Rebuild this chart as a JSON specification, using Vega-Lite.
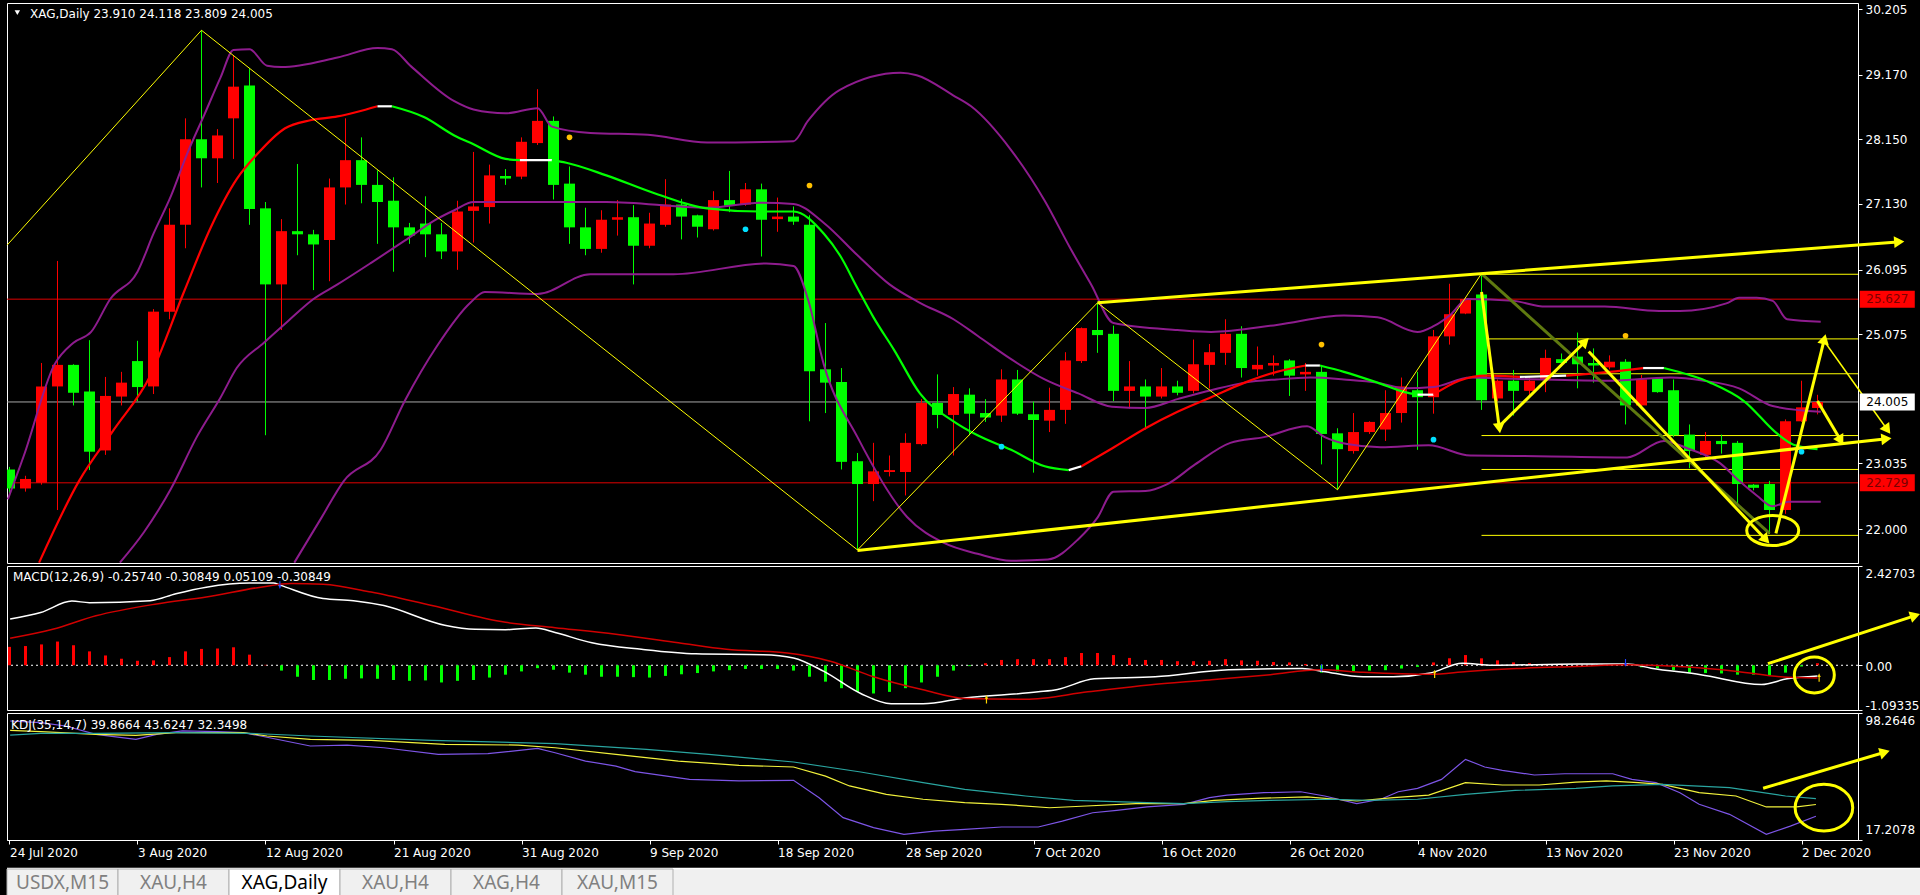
{
"$schema": "https://vega.github.io/schema/vega-lite/v6.json",
"background": "#000000",
"padding": {"left": 3, "top": 2, "right": 0, "bottom": 0},
"spacing": 3,
"bounds": "flush",
"config": {"view": {"stroke": "#ffffff", "strokeWidth": 1}, "font": "DejaVu Sans",
  "axis": {"grid": false, "labelColor": "#ffffff", "tickColor": "#ffffff", "domainColor": "#ffffff", "labelFont": "DejaVu Sans", "labelFontSize": 12, "tickSize": 4, "labelPadding": 3, "titleColor": "#ffffff"}},
"resolve": {"scale": {"x": "independent", "y": "independent", "color": "independent"}},
"datasets": {
"candles": [
{"i":0,"o":22.94,"h":22.98,"l":22.55,"c":22.64},{"i":1,"o":22.64,"h":22.84,"l":22.59,"c":22.79},{"i":2,"o":22.73,"h":24.62,"l":22.70,"c":24.25},{"i":3,"o":24.25,"h":26.23,"l":22.30,"c":24.59},{"i":4,"o":24.59,"h":24.60,"l":23.95,"c":24.15},{"i":5,"o":24.17,"h":24.98,"l":22.93,"c":23.22},{"i":6,"o":23.24,"h":24.40,"l":23.17,"c":24.10},{"i":7,"o":24.09,"h":24.48,"l":23.95,"c":24.31},{"i":8,"o":24.65,"h":24.97,"l":24.02,"c":24.24},{"i":9,"o":24.25,"h":25.47,"l":24.13,"c":25.43},
{"i":10,"o":25.43,"h":27.06,"l":25.31,"c":26.80},{"i":11,"o":26.80,"h":28.48,"l":26.43,"c":28.15},{"i":12,"o":28.15,"h":29.87,"l":27.39,"c":27.85},{"i":13,"o":27.85,"h":28.31,"l":27.46,"c":28.21},{"i":14,"o":28.48,"h":29.47,"l":27.84,"c":28.98},{"i":15,"o":29.00,"h":29.27,"l":26.80,"c":27.05},{"i":16,"o":27.06,"h":27.16,"l":23.48,"c":25.86},{"i":17,"o":25.86,"h":26.89,"l":25.14,"c":26.70},{"i":18,"o":26.70,"h":27.76,"l":26.32,"c":26.65},{"i":19,"o":26.65,"h":26.72,"l":25.77,"c":26.49},
{"i":20,"o":26.56,"h":27.53,"l":25.91,"c":27.39},{"i":21,"o":27.39,"h":28.48,"l":27.12,"c":27.82},{"i":22,"o":27.82,"h":28.18,"l":27.14,"c":27.43},{"i":23,"o":27.43,"h":27.66,"l":26.50,"c":27.16},{"i":24,"o":27.18,"h":27.55,"l":26.06,"c":26.76},{"i":25,"o":26.76,"h":26.83,"l":26.50,"c":26.63},{"i":26,"o":26.82,"h":27.25,"l":26.29,"c":26.65},{"i":27,"o":26.65,"h":26.83,"l":26.26,"c":26.38},{"i":28,"o":26.38,"h":27.18,"l":26.09,"c":27.01},{"i":29,"o":27.02,"h":27.95,"l":26.52,"c":27.09},
{"i":30,"o":27.08,"h":27.75,"l":26.82,"c":27.58},{"i":31,"o":27.57,"h":27.68,"l":27.43,"c":27.53},{"i":32,"o":27.56,"h":28.18,"l":27.52,"c":28.11},{"i":33,"o":28.09,"h":28.94,"l":28.06,"c":28.44},{"i":34,"o":28.44,"h":28.51,"l":27.20,"c":27.43},{"i":35,"o":27.45,"h":27.72,"l":26.50,"c":26.76},{"i":36,"o":26.76,"h":27.07,"l":26.32,"c":26.42},{"i":37,"o":26.42,"h":27.03,"l":26.36,"c":26.88},{"i":38,"o":26.88,"h":27.19,"l":26.63,"c":26.92},{"i":39,"o":26.92,"h":27.11,"l":25.86,"c":26.47},
{"i":40,"o":26.47,"h":26.99,"l":26.43,"c":26.82},{"i":41,"o":26.80,"h":27.52,"l":26.77,"c":27.12},{"i":42,"o":27.12,"h":27.21,"l":26.57,"c":26.93},{"i":43,"o":26.95,"h":26.96,"l":26.60,"c":26.77},{"i":44,"o":26.73,"h":27.33,"l":26.71,"c":27.19},{"i":45,"o":27.19,"h":27.65,"l":27.00,"c":27.10},{"i":46,"o":27.12,"h":27.46,"l":27.10,"c":27.36},{"i":47,"o":27.36,"h":27.45,"l":26.30,"c":26.88},{"i":48,"o":26.89,"h":27.23,"l":26.69,"c":26.93},{"i":49,"o":26.93,"h":27.09,"l":26.80,"c":26.85},
{"i":50,"o":26.80,"h":26.95,"l":23.70,"c":24.49},{"i":51,"o":24.52,"h":25.25,"l":23.83,"c":24.31},{"i":52,"o":24.32,"h":24.54,"l":22.94,"c":23.06},{"i":53,"o":23.07,"h":23.20,"l":21.67,"c":22.71},{"i":54,"o":22.71,"h":23.36,"l":22.44,"c":22.91},{"i":55,"o":22.90,"h":23.16,"l":22.83,"c":22.93},{"i":56,"o":22.90,"h":23.51,"l":22.53,"c":23.36},{"i":57,"o":23.34,"h":24.05,"l":23.32,"c":23.99},{"i":58,"o":23.99,"h":24.44,"l":23.59,"c":23.80},{"i":59,"o":23.80,"h":24.24,"l":23.16,"c":24.13},
{"i":60,"o":24.12,"h":24.22,"l":23.48,"c":23.82},{"i":61,"o":23.83,"h":24.05,"l":23.69,"c":23.76},{"i":62,"o":23.79,"h":24.52,"l":23.69,"c":24.36},{"i":63,"o":24.36,"h":24.51,"l":23.80,"c":23.82},{"i":64,"o":23.81,"h":24.01,"l":22.89,"c":23.72},{"i":65,"o":23.71,"h":24.23,"l":23.53,"c":23.88},{"i":66,"o":23.88,"h":24.79,"l":23.66,"c":24.66},{"i":67,"o":24.65,"h":25.18,"l":24.62,"c":25.17},{"i":68,"o":25.14,"h":25.57,"l":24.78,"c":25.06},{"i":69,"o":25.08,"h":25.21,"l":24.02,"c":24.18},
{"i":70,"o":24.18,"h":24.65,"l":23.90,"c":24.25},{"i":71,"o":24.25,"h":24.36,"l":23.57,"c":24.09},{"i":72,"o":24.09,"h":24.54,"l":24.06,"c":24.25},{"i":73,"o":24.25,"h":24.34,"l":24.11,"c":24.15},{"i":74,"o":24.18,"h":24.99,"l":24.14,"c":24.60},{"i":75,"o":24.59,"h":24.92,"l":24.22,"c":24.79},{"i":76,"o":24.78,"h":25.31,"l":24.59,"c":25.08},{"i":77,"o":25.08,"h":25.20,"l":24.39,"c":24.54},{"i":78,"o":24.52,"h":24.88,"l":24.42,"c":24.59},{"i":79,"o":24.58,"h":24.74,"l":24.42,"c":24.62},
{"i":80,"o":24.66,"h":24.68,"l":24.10,"c":24.42},{"i":81,"o":24.44,"h":24.62,"l":24.18,"c":24.48},{"i":82,"o":24.48,"h":24.57,"l":23.02,"c":23.50},{"i":83,"o":23.51,"h":23.59,"l":22.62,"c":23.26},{"i":84,"o":23.23,"h":23.83,"l":23.19,"c":23.53},{"i":85,"o":23.53,"h":23.70,"l":23.50,"c":23.69},{"i":86,"o":23.57,"h":24.19,"l":23.39,"c":23.83},{"i":87,"o":23.83,"h":24.39,"l":23.68,"c":24.25},{"i":88,"o":24.19,"h":24.48,"l":23.25,"c":24.08},{"i":89,"o":24.08,"h":25.14,"l":23.82,"c":25.04},
{"i":90,"o":25.04,"h":25.87,"l":24.91,"c":25.39},{"i":91,"o":25.40,"h":25.66,"l":25.39,"c":25.63},{"i":92,"o":25.70,"h":26.03,"l":23.88,"c":24.03},{"i":93,"o":24.06,"h":24.36,"l":24.02,"c":24.34},{"i":94,"o":24.34,"h":24.51,"l":23.79,"c":24.18},{"i":95,"o":24.18,"h":24.39,"l":24.11,"c":24.34},{"i":96,"o":24.35,"h":24.83,"l":24.16,"c":24.70},{"i":97,"o":24.68,"h":24.77,"l":24.57,"c":24.62},{"i":98,"o":24.72,"h":25.10,"l":24.22,"c":24.60},{"i":99,"o":24.62,"h":24.85,"l":24.31,"c":24.58},
{"i":100,"o":24.55,"h":24.74,"l":24.52,"c":24.64},{"i":101,"o":24.64,"h":24.68,"l":23.65,"c":23.95},{"i":102,"o":23.95,"h":24.43,"l":23.93,"c":24.36},{"i":103,"o":24.38,"h":24.39,"l":24.15,"c":24.16},{"i":104,"o":24.19,"h":24.36,"l":23.45,"c":23.48},{"i":105,"o":23.49,"h":23.65,"l":22.96,"c":23.23},{"i":106,"o":23.17,"h":23.53,"l":23.13,"c":23.39},{"i":107,"o":23.39,"h":23.49,"l":23.19,"c":23.34},{"i":108,"o":23.36,"h":23.39,"l":22.38,"c":22.71},{"i":109,"o":22.70,"h":22.71,"l":22.61,"c":22.65},
{"i":110,"o":22.71,"h":22.76,"l":21.93,"c":22.30},{"i":111,"o":22.30,"h":23.73,"l":22.24,"c":23.70},{"i":112,"o":23.70,"h":24.34,"l":23.69,"c":23.92},{"i":113,"o":23.91,"h":24.118,"l":23.809,"c":24.005}
],
"bands": [
{"band":"upper","i":-0.1,"p":22.47},{"band":"upper","i":0.9,"p":23.16},{"band":"upper","i":2.8,"p":24.59},{"band":"upper","i":4.0,"p":24.94},{"band":"upper","i":5.1,"p":25.11},{"band":"upper","i":6.3,"p":25.63},{"band":"upper","i":8.0,"p":26.06},{"band":"upper","i":9.0,"p":26.66},{"band":"upper","i":10.1,"p":27.26},{"band":"upper","i":11.1,"p":27.92},{"band":"upper","i":12.2,"p":28.55},{"band":"upper","i":13.2,"p":29.13},{"band":"upper","i":14.0,"p":29.56},{"band":"upper","i":15.0,"p":29.57},{"band":"upper","i":16.1,"p":29.31},{"band":"upper","i":17.0,"p":29.29},{"band":"upper","i":20.5,"p":29.44},{"band":"upper","i":23.0,"p":29.59},{"band":"upper","i":23.9,"p":29.57},{"band":"upper","i":25.1,"p":29.30},{"band":"upper","i":27.8,"p":28.75},{"band":"upper","i":29.0,"p":28.62},{"band":"upper","i":31.0,"p":28.56},{"band":"upper","i":33.0,"p":28.64},{"band":"upper","i":33.9,"p":28.35},{"band":"upper","i":36.3,"p":28.25},{"band":"upper","i":39.9,"p":28.22},{"band":"upper","i":43.6,"p":28.10},{"band":"upper","i":49.0,"p":28.12},{"band":"upper","i":49.9,"p":28.44},{"band":"upper","i":51.9,"p":28.93},{"band":"upper","i":55.7,"p":29.20},{"band":"upper","i":56.7,"p":29.16},{"band":"upper","i":59.0,"p":28.84},{"band":"upper","i":60.1,"p":28.67},{"band":"upper","i":62.6,"p":27.98},{"band":"upper","i":64.7,"p":27.18},{"band":"upper","i":66.3,"p":26.43},{"band":"upper","i":67.6,"p":25.86},{"band":"upper","i":69.0,"p":25.25},{"band":"upper","i":73.0,"p":25.14},{"band":"upper","i":75.1,"p":25.11},{"band":"upper","i":79.2,"p":25.22},{"band":"upper","i":83.4,"p":25.37},{"band":"upper","i":85.5,"p":25.34},{"band":"upper","i":88.0,"p":25.11},{"band":"upper","i":89.0,"p":25.20},{"band":"upper","i":90.1,"p":25.39},{"band":"upper","i":91.1,"p":25.63},{"band":"upper","i":94.0,"p":25.60},{"band":"upper","i":96.0,"p":25.51},{"band":"upper","i":99.7,"p":25.51},{"band":"upper","i":103.1,"p":25.44},{"band":"upper","i":104.4,"p":25.44},{"band":"upper","i":107.3,"p":25.56},{"band":"upper","i":108.1,"p":25.65},{"band":"upper","i":109.2,"p":25.65},{"band":"upper","i":110.2,"p":25.60},{"band":"upper","i":111.1,"p":25.31},{"band":"upper","i":113.2,"p":25.27},
{"band":"middle","i":6.9,"p":21.47},{"band":"middle","i":8.4,"p":21.95},{"band":"middle","i":10.1,"p":22.64},{"band":"middle","i":11.7,"p":23.45},{"band":"middle","i":13.2,"p":24.08},{"band":"middle","i":14.2,"p":24.54},{"band":"middle","i":15.9,"p":24.94},{"band":"middle","i":17.4,"p":25.28},{"band":"middle","i":19.0,"p":25.63},{"band":"middle","i":20.5,"p":25.86},{"band":"middle","i":22.6,"p":26.20},{"band":"middle","i":24.7,"p":26.55},{"band":"middle","i":26.7,"p":26.89},{"band":"middle","i":27.8,"p":27.03},{"band":"middle","i":29.0,"p":27.16},{"band":"middle","i":37.3,"p":27.16},{"band":"middle","i":43.6,"p":27.07},{"band":"middle","i":46.9,"p":27.15},{"band":"middle","i":49.0,"p":27.13},{"band":"middle","i":50.9,"p":26.83},{"band":"middle","i":53.0,"p":26.32},{"band":"middle","i":55.0,"p":25.86},{"band":"middle","i":56.9,"p":25.57},{"band":"middle","i":59.0,"p":25.31},{"band":"middle","i":60.5,"p":25.05},{"band":"middle","i":62.6,"p":24.68},{"band":"middle","i":64.7,"p":24.36},{"band":"middle","i":66.8,"p":24.14},{"band":"middle","i":68.9,"p":23.93},{"band":"middle","i":71.0,"p":23.91},{"band":"middle","i":73.0,"p":24.05},{"band":"middle","i":75.1,"p":24.19},{"band":"middle","i":77.2,"p":24.31},{"band":"middle","i":79.2,"p":24.36},{"band":"middle","i":81.3,"p":24.39},{"band":"middle","i":83.4,"p":24.36},{"band":"middle","i":85.5,"p":24.31},{"band":"middle","i":87.2,"p":24.22},{"band":"middle","i":89.0,"p":24.24},{"band":"middle","i":91.3,"p":24.39},{"band":"middle","i":94.0,"p":24.37},{"band":"middle","i":99.7,"p":24.34},{"band":"middle","i":103.8,"p":24.39},{"band":"middle","i":105.9,"p":24.34},{"band":"middle","i":108.1,"p":24.22},{"band":"middle","i":110.2,"p":23.94},{"band":"middle","i":113.2,"p":23.85},
{"band":"lower","i":17.8,"p":21.47},{"band":"lower","i":19.5,"p":22.18},{"band":"lower","i":20.9,"p":22.76},{"band":"lower","i":23.2,"p":23.25},{"band":"lower","i":24.7,"p":24.02},{"band":"lower","i":26.7,"p":24.88},{"band":"lower","i":28.8,"p":25.57},{"band":"lower","i":29.7,"p":25.74},{"band":"lower","i":33.0,"p":25.71},{"band":"lower","i":36.3,"p":26.02},{"band":"lower","i":41.5,"p":26.02},{"band":"lower","i":47.3,"p":26.19},{"band":"lower","i":49.0,"p":26.15},{"band":"lower","i":49.9,"p":25.63},{"band":"lower","i":50.9,"p":24.59},{"band":"lower","i":53.0,"p":23.45},{"band":"lower","i":56.1,"p":22.19},{"band":"lower","i":58.4,"p":21.78},{"band":"lower","i":60.5,"p":21.61},{"band":"lower","i":62.6,"p":21.50},{"band":"lower","i":64.9,"p":21.52},{"band":"lower","i":66.8,"p":21.84},{"band":"lower","i":68.0,"p":22.18},{"band":"lower","i":69.0,"p":22.59},{"band":"lower","i":71.0,"p":22.60},{"band":"lower","i":72.3,"p":22.70},{"band":"lower","i":74.1,"p":23.02},{"band":"lower","i":76.3,"p":23.36},{"band":"lower","i":78.4,"p":23.45},{"band":"lower","i":81.1,"p":23.62},{"band":"lower","i":82.2,"p":23.45},{"band":"lower","i":83.6,"p":23.34},{"band":"lower","i":85.7,"p":23.29},{"band":"lower","i":88.7,"p":23.32},{"band":"lower","i":91.3,"p":23.16},{"band":"lower","i":95.5,"p":23.15},{"band":"lower","i":101.1,"p":23.13},{"band":"lower","i":103.4,"p":23.39},{"band":"lower","i":104.9,"p":23.27},{"band":"lower","i":106.9,"p":23.04},{"band":"lower","i":108.1,"p":22.76},{"band":"lower","i":109.2,"p":22.53},{"band":"lower","i":110.2,"p":22.36},{"band":"lower","i":111.2,"p":22.43},{"band":"lower","i":113.2,"p":22.43}
],
"ma": [
{"seg":1,"trend":"up","i":1.85,"p":21.47},{"seg":1,"trend":"up","i":4.35,"p":22.76},{"seg":1,"trend":"up","i":6.5,"p":23.56},{"seg":1,"trend":"up","i":8.8,"p":24.42},{"seg":1,"trend":"up","i":10.9,"p":25.74},{"seg":1,"trend":"up","i":12.6,"p":26.77},{"seg":1,"trend":"up","i":14.2,"p":27.52},{"seg":1,"trend":"up","i":15.5,"p":27.92},{"seg":1,"trend":"up","i":17.2,"p":28.32},{"seg":1,"trend":"up","i":18.8,"p":28.45},{"seg":1,"trend":"up","i":20.5,"p":28.51},{"seg":1,"trend":"up","i":21.7,"p":28.58},{"seg":1,"trend":"up","i":23.0,"p":28.67},
{"seg":2,"trend":"flat","i":23.0,"p":28.67},{"seg":2,"trend":"flat","i":23.9,"p":28.67},
{"seg":3,"trend":"down","i":23.9,"p":28.67},{"seg":3,"trend":"down","i":25.9,"p":28.50},{"seg":3,"trend":"down","i":27.8,"p":28.21},{"seg":3,"trend":"down","i":29.0,"p":28.07},{"seg":3,"trend":"down","i":31.0,"p":27.84},{"seg":3,"trend":"down","i":31.9,"p":27.82},
{"seg":4,"trend":"flat","i":31.9,"p":27.82},{"seg":4,"trend":"flat","i":33.9,"p":27.82},
{"seg":5,"trend":"down","i":33.9,"p":27.82},{"seg":5,"trend":"down","i":34.8,"p":27.78},{"seg":5,"trend":"down","i":37.3,"p":27.58},{"seg":5,"trend":"down","i":40.4,"p":27.29},{"seg":5,"trend":"down","i":43.6,"p":27.06},{"seg":5,"trend":"down","i":46.9,"p":27.01},{"seg":5,"trend":"down","i":49.0,"p":27.01},{"seg":5,"trend":"down","i":50.9,"p":26.66},{"seg":5,"trend":"down","i":51.9,"p":26.32},{"seg":5,"trend":"down","i":53.0,"p":25.80},{"seg":5,"trend":"down","i":54.0,"p":25.34},{"seg":5,"trend":"down","i":55.3,"p":24.82},{"seg":5,"trend":"down","i":56.9,"p":24.14},{"seg":5,"trend":"down","i":59.0,"p":23.70},{"seg":5,"trend":"down","i":60.5,"p":23.48},{"seg":5,"trend":"down","i":62.6,"p":23.25},{"seg":5,"trend":"down","i":64.7,"p":22.99},{"seg":5,"trend":"down","i":66.2,"p":22.93},
{"seg":6,"trend":"flat","i":66.2,"p":22.93},{"seg":6,"trend":"flat","i":67.0,"p":22.99},
{"seg":7,"trend":"up","i":67.0,"p":22.99},{"seg":7,"trend":"up","i":68.9,"p":23.27},{"seg":7,"trend":"up","i":71.0,"p":23.59},{"seg":7,"trend":"up","i":73.0,"p":23.85},{"seg":7,"trend":"up","i":75.1,"p":24.08},{"seg":7,"trend":"up","i":77.2,"p":24.31},{"seg":7,"trend":"up","i":79.2,"p":24.48},{"seg":7,"trend":"up","i":81.0,"p":24.58},
{"seg":8,"trend":"flat","i":81.0,"p":24.58},{"seg":8,"trend":"flat","i":81.9,"p":24.58},
{"seg":9,"trend":"down","i":81.9,"p":24.58},{"seg":9,"trend":"down","i":83.4,"p":24.48},{"seg":9,"trend":"down","i":85.5,"p":24.31},{"seg":9,"trend":"down","i":87.2,"p":24.16},{"seg":9,"trend":"down","i":88.0,"p":24.12},
{"seg":10,"trend":"flat","i":88.0,"p":24.12},{"seg":10,"trend":"flat","i":89.0,"p":24.12},
{"seg":11,"trend":"up","i":89.0,"p":24.12},{"seg":11,"trend":"up","i":90.6,"p":24.34},{"seg":11,"trend":"up","i":92.3,"p":24.42},{"seg":11,"trend":"up","i":94.4,"p":24.40},
{"seg":12,"trend":"flat","i":94.4,"p":24.40},{"seg":12,"trend":"flat","i":97.3,"p":24.42},
{"seg":13,"trend":"up","i":97.3,"p":24.42},{"seg":13,"trend":"up","i":100.0,"p":24.48},{"seg":13,"trend":"up","i":102.1,"p":24.54},
{"seg":14,"trend":"flat","i":102.1,"p":24.54},{"seg":14,"trend":"flat","i":103.4,"p":24.54},
{"seg":15,"trend":"down","i":103.4,"p":24.54},{"seg":15,"trend":"down","i":106.3,"p":24.31},{"seg":15,"trend":"down","i":108.4,"p":24.02},{"seg":15,"trend":"down","i":110.5,"p":23.50},{"seg":15,"trend":"down","i":111.5,"p":23.33},{"seg":15,"trend":"down","i":113.0,"p":23.26}
],
"zigzag": [{"i":-0.15,"p":26.48},{"i":12,"p":29.87},{"i":53,"p":21.67},{"i":68,"p":25.57},{"i":83,"p":22.62},{"i":92,"p":26.03},{"i":110,"p":21.93}],
"olive": [{"i":92,"p":26.03},{"i":110,"p":21.93}],
"trend": [
{"id":"upper","i":68,"p":25.57},{"id":"upper","i":118,"p":26.53},
{"id":"lower","i":53,"p":21.66},{"id":"lower","i":117.2,"p":23.42},
{"id":"a","i":92,"p":25.74},{"id":"a","i":93.1,"p":23.62},
{"id":"b","i":93.1,"p":23.62},{"id":"b","i":98.4,"p":24.94},
{"id":"c","i":98.7,"p":24.8},{"id":"c","i":109.7,"p":21.85},
{"id":"d","i":110.4,"p":21.93},{"id":"d","i":113.4,"p":24.97},
{"id":"f","i":113.0,"p":24.02},{"id":"f","i":114.4,"p":23.42}
],
"thin": [{"id":"e","i":113.4,"p":24.97},{"id":"e","i":117.3,"p":23.59}],
"heads": [{"i":118,"p":26.53,"dir":85.7},{"i":117.2,"p":23.42,"dir":83.8},{"i":93.1,"p":23.62,"dir":172.5},{"i":98.4,"p":24.94,"dir":45.4},{"i":109.7,"p":21.85,"dir":136.7},{"i":113.4,"p":24.97,"dir":14},{"i":117.3,"p":23.59,"dir":144.5},{"i":114.4,"p":23.42,"dir":149.5}],
"fib": [{"p":26.02},{"p":25.0},{"p":24.45},{"p":23.475},{"p":22.94},{"p":21.90}],
"levels": [{"p":25.627},{"p":22.729}],
"dots": [{"i":35,"p":28.18,"kind":"up"},{"i":50,"p":27.42,"kind":"up"},{"i":82,"p":24.91,"kind":"up"},{"i":101,"p":25.05,"kind":"up"},{"i":46,"p":26.73,"kind":"down"},{"i":62,"p":23.30,"kind":"down"},{"i":89,"p":23.41,"kind":"down"},{"i":112,"p":23.22,"kind":"down"}],
"pricelabels": [{"p":25.627,"kind":"res","t":"25.627"},{"p":22.729,"kind":"res","t":"22.729"},{"p":24.005,"kind":"cur","t":"24.005"}],
"hist": [
{"i":0,"h":0.45},{"i":1,"h":0.47},{"i":2,"h":0.51},{"i":3,"h":0.58},{"i":4,"h":0.49},{"i":5,"h":0.34},{"i":6,"h":0.24},{"i":7,"h":0.16},{"i":8,"h":0.11},{"i":9,"h":0.12},{"i":10,"h":0.20},{"i":11,"h":0.34},{"i":12,"h":0.40},{"i":13,"h":0.41},{"i":14,"h":0.44},{"i":15,"h":0.26},{"i":16,"h":0.01},{"i":17,"h":-0.13},{"i":18,"h":-0.28},{"i":19,"h":-0.36},{"i":20,"h":-0.36},{"i":21,"h":-0.33},{"i":22,"h":-0.32},{"i":23,"h":-0.33},{"i":24,"h":-0.36},{"i":25,"h":-0.38},{"i":26,"h":-0.37},{"i":27,"h":-0.42},{"i":28,"h":-0.38},{"i":29,"h":-0.36},{"i":30,"h":-0.30},{"i":31,"h":-0.23},{"i":32,"h":-0.15},{"i":33,"h":-0.07},{"i":34,"h":-0.11},{"i":35,"h":-0.18},{"i":36,"h":-0.23},{"i":37,"h":-0.28},{"i":38,"h":-0.28},{"i":39,"h":-0.29},{"i":40,"h":-0.30},{"i":41,"h":-0.26},{"i":42,"h":-0.22},{"i":43,"h":-0.19},{"i":44,"h":-0.15},{"i":45,"h":-0.12},{"i":46,"h":-0.09},{"i":47,"h":-0.09},{"i":48,"h":-0.09},{"i":49,"h":-0.13},{"i":50,"h":-0.28},{"i":51,"h":-0.40},{"i":52,"h":-0.56},{"i":53,"h":-0.65},{"i":54,"h":-0.69},{"i":55,"h":-0.65},{"i":56,"h":-0.56},{"i":57,"h":-0.42},{"i":58,"h":-0.28},{"i":59,"h":-0.13},
{"i":60,"h":-0.02},{"i":61,"h":0.05},{"i":62,"h":0.13},{"i":63,"h":0.15},{"i":64,"h":0.15},{"i":65,"h":0.15},{"i":66,"h":0.20},{"i":67,"h":0.30},{"i":68,"h":0.30},{"i":69,"h":0.25},{"i":70,"h":0.18},{"i":71,"h":0.13},{"i":72,"h":0.13},{"i":73,"h":0.10},{"i":74,"h":0.10},{"i":75,"h":0.11},{"i":76,"h":0.15},{"i":77,"h":0.12},{"i":78,"h":0.11},{"i":79,"h":0.08},{"i":80,"h":0.07},{"i":81,"h":0.03},{"i":82,"h":-0.18},{"i":83,"h":-0.15},{"i":84,"h":-0.15},{"i":85,"h":-0.13},{"i":86,"h":-0.12},{"i":87,"h":-0.08},{"i":88,"h":-0.04},{"i":89,"h":0.07},{"i":90,"h":0.17},{"i":91,"h":0.25},{"i":92,"h":0.17},{"i":93,"h":0.12},{"i":94,"h":0.07},{"i":95,"h":0.05},{"i":96,"h":0.02},{"i":97,"h":0.02},{"i":98,"h":0.01},{"i":99,"h":0.01},{"i":100,"h":0.01},{"i":101,"h":0.0},{"i":102,"h":-0.05},{"i":103,"h":-0.07},{"i":104,"h":-0.12},{"i":105,"h":-0.18},{"i":106,"h":-0.19},{"i":107,"h":-0.20},{"i":108,"h":-0.23},{"i":109,"h":-0.23},{"i":110,"h":-0.25},{"i":111,"h":-0.18},{"i":112,"h":-0.03},{"i":113,"h":0.05}
],
"macdlines": [
{"line":"MACD","i":0.04,"v":1.13},{"line":"MACD","i":1.95,"v":1.29},{"line":"MACD","i":3.9,"v":1.57},{"line":"MACD","i":5.0,"v":1.53},{"line":"MACD","i":8.8,"v":1.58},{"line":"MACD","i":10.4,"v":1.75},{"line":"MACD","i":12.3,"v":1.91},{"line":"MACD","i":15.0,"v":2.01},{"line":"MACD","i":16.5,"v":2.01},{"line":"MACD","i":16.9,"v":1.96},{"line":"MACD","i":19.6,"v":1.63},{"line":"MACD","i":21.5,"v":1.58},{"line":"MACD","i":23.4,"v":1.46},{"line":"MACD","i":27.2,"v":0.98},{"line":"MACD","i":29.1,"v":0.88},{"line":"MACD","i":31.0,"v":0.87},{"line":"MACD","i":32.9,"v":0.91},{"line":"MACD","i":34.1,"v":0.80},{"line":"MACD","i":36.4,"v":0.55},{"line":"MACD","i":39.5,"v":0.39},{"line":"MACD","i":42.9,"v":0.28},{"line":"MACD","i":47.1,"v":0.26},{"line":"MACD","i":49.0,"v":0.18},{"line":"MACD","i":50.9,"v":-0.15},{"line":"MACD","i":53.2,"v":-0.69},{"line":"MACD","i":55.1,"v":-0.94},{"line":"MACD","i":57.1,"v":-0.94},{"line":"MACD","i":59.7,"v":-0.80},{"line":"MACD","i":64.3,"v":-0.65},{"line":"MACD","i":65.5,"v":-0.59},{"line":"MACD","i":67.8,"v":-0.33},{"line":"MACD","i":71.6,"v":-0.28},{"line":"MACD","i":76.2,"v":-0.11},{"line":"MACD","i":80.8,"v":-0.08},{"line":"MACD","i":82.1,"v":-0.15},{"line":"MACD","i":84.6,"v":-0.28},{"line":"MACD","i":86.5,"v":-0.28},{"line":"MACD","i":88.8,"v":-0.19},{"line":"MACD","i":90.8,"v":0.05},{"line":"MACD","i":92.7,"v":0.0},{"line":"MACD","i":98.0,"v":0.03},{"line":"MACD","i":101.1,"v":0.03},{"line":"MACD","i":102.6,"v":-0.07},{"line":"MACD","i":105.7,"v":-0.23},{"line":"MACD","i":109.5,"v":-0.47},{"line":"MACD","i":111.1,"v":-0.33},{"line":"MACD","i":113.0,"v":-0.26},
{"line":"Signal","i":0.04,"v":0.66},{"line":"Signal","i":2.7,"v":0.88},{"line":"Signal","i":5.4,"v":1.21},{"line":"Signal","i":9.2,"v":1.50},{"line":"Signal","i":12.3,"v":1.67},{"line":"Signal","i":15.7,"v":1.91},{"line":"Signal","i":17.6,"v":2.00},{"line":"Signal","i":19.6,"v":1.98},{"line":"Signal","i":22.6,"v":1.79},{"line":"Signal","i":26.4,"v":1.46},{"line":"Signal","i":31.0,"v":1.05},{"line":"Signal","i":34.1,"v":0.92},{"line":"Signal","i":37.9,"v":0.76},{"line":"Signal","i":41.8,"v":0.55},{"line":"Signal","i":44.8,"v":0.39},{"line":"Signal","i":48.6,"v":0.30},{"line":"Signal","i":51.3,"v":0.10},{"line":"Signal","i":54.0,"v":-0.28},{"line":"Signal","i":57.1,"v":-0.60},{"line":"Signal","i":59.7,"v":-0.81},{"line":"Signal","i":63.5,"v":-0.83},{"line":"Signal","i":67.4,"v":-0.65},{"line":"Signal","i":71.2,"v":-0.48},{"line":"Signal","i":75.0,"v":-0.36},{"line":"Signal","i":78.8,"v":-0.23},{"line":"Signal","i":81.9,"v":-0.11},{"line":"Signal","i":84.6,"v":-0.17},{"line":"Signal","i":88.8,"v":-0.22},{"line":"Signal","i":91.1,"v":-0.15},{"line":"Signal","i":94.2,"v":-0.08},{"line":"Signal","i":98.0,"v":-0.03},{"line":"Signal","i":101.1,"v":0.01},{"line":"Signal","i":104.3,"v":-0.03},{"line":"Signal","i":108.0,"v":-0.15},{"line":"Signal","i":110.7,"v":-0.28},{"line":"Signal","i":113.0,"v":-0.31}
],
"macdmarks": [{"i":61.06,"v":-0.83,"kind":"buy"},{"i":89.07,"v":-0.21,"kind":"buy"},{"i":113.1,"v":-0.30,"kind":"buy"},{"i":16.9,"v":1.96,"kind":"sell"},{"i":82.0,"v":-0.07,"kind":"sell"},{"i":101.0,"v":0.06,"kind":"sell"}],
"macdarrow": [{"i":109.9,"v":0.04},{"i":119.0,"v":1.20}],
"kdjarrow": [{"i":109.6,"v":50.2},{"i":117.1,"v":72.9}],
"kdj": [
{"line":"J","i":0.04,"v":93.16},{"line":"J","i":1.95,"v":92.09},{"line":"J","i":3.5,"v":89.97},{"line":"J","i":5.4,"v":84.6},{"line":"J","i":7.9,"v":81.45},{"line":"J","i":9.2,"v":84.6},{"line":"J","i":10.8,"v":86.8},{"line":"J","i":13.0,"v":86.35},{"line":"J","i":14.6,"v":85.7},{"line":"J","i":15.7,"v":83.6},{"line":"J","i":18.8,"v":77.2},{"line":"J","i":21.1,"v":77.8},{"line":"J","i":23.4,"v":76.1},{"line":"J","i":26.8,"v":71.9},{"line":"J","i":29.9,"v":72.3},{"line":"J","i":33.0,"v":75.7},{"line":"J","i":34.1,"v":72.9},{"line":"J","i":36.0,"v":67.6},{"line":"J","i":37.9,"v":64.4},{"line":"J","i":39.1,"v":60.8},{"line":"J","i":42.5,"v":55.9},{"line":"J","i":45.6,"v":54.9},{"line":"J","i":49.0,"v":55.3},{"line":"J","i":50.6,"v":44.2},{"line":"J","i":52.1,"v":31.5},{"line":"J","i":54.0,"v":25.1},{"line":"J","i":55.9,"v":20.8},{"line":"J","i":57.8,"v":22.9},{"line":"J","i":59.7,"v":24.0},{"line":"J","i":62.0,"v":25.5},{"line":"J","i":64.3,"v":25.5},{"line":"J","i":65.8,"v":29.3},{"line":"J","i":67.7,"v":34.6},{"line":"J","i":69.2,"v":36.1},{"line":"J","i":71.1,"v":38.3},{"line":"J","i":73.4,"v":40.0},{"line":"J","i":75.0,"v":44.2},{"line":"J","i":76.1,"v":45.9},{"line":"J","i":78.4,"v":47.4},{"line":"J","i":80.7,"v":48.0},{"line":"J","i":82.2,"v":45.3},{"line":"J","i":84.2,"v":40.4},{"line":"J","i":85.7,"v":43.2},{"line":"J","i":86.8,"v":48.0},{"line":"J","i":88.0,"v":50.2},{"line":"J","i":89.5,"v":55.9},{"line":"J","i":91.0,"v":68.7},{"line":"J","i":92.2,"v":63.8},{"line":"J","i":93.3,"v":61.7},{"line":"J","i":95.3,"v":58.7},{"line":"J","i":97.2,"v":59.5},{"line":"J","i":100.2,"v":59.5},{"line":"J","i":101.4,"v":55.9},{"line":"J","i":102.9,"v":53.8},{"line":"J","i":104.4,"v":47.4},{"line":"J","i":105.6,"v":40.0},{"line":"J","i":107.5,"v":33.6},{"line":"J","i":109.8,"v":20.8},{"line":"J","i":111.3,"v":26.1},{"line":"J","i":112.9,"v":32.35},
{"line":"K","i":0.04,"v":87.2},{"line":"K","i":1.95,"v":86.35},{"line":"K","i":5.4,"v":84.6},{"line":"K","i":7.9,"v":84.0},{"line":"K","i":10.4,"v":85.7},{"line":"K","i":14.6,"v":85.7},{"line":"K","i":16.1,"v":83.6},{"line":"K","i":18.8,"v":81.45},{"line":"K","i":22.6,"v":80.8},{"line":"K","i":27.2,"v":78.3},{"line":"K","i":31.8,"v":77.8},{"line":"K","i":34.1,"v":76.1},{"line":"K","i":37.9,"v":71.9},{"line":"K","i":41.8,"v":67.6},{"line":"K","i":45.6,"v":64.9},{"line":"K","i":49.0,"v":63.8},{"line":"K","i":51.0,"v":58.0},{"line":"K","i":52.5,"v":51.7},{"line":"K","i":54.8,"v":46.3},{"line":"K","i":57.1,"v":43.2},{"line":"K","i":59.7,"v":41.0},{"line":"K","i":62.0,"v":40.0},{"line":"K","i":65.0,"v":37.8},{"line":"K","i":67.3,"v":38.9},{"line":"K","i":70.4,"v":40.4},{"line":"K","i":73.4,"v":40.4},{"line":"K","i":75.3,"v":42.5},{"line":"K","i":78.0,"v":43.8},{"line":"K","i":81.1,"v":44.7},{"line":"K","i":84.2,"v":42.1},{"line":"K","i":86.5,"v":44.2},{"line":"K","i":88.7,"v":45.9},{"line":"K","i":91.0,"v":53.8},{"line":"K","i":93.3,"v":52.3},{"line":"K","i":95.6,"v":52.3},{"line":"K","i":97.9,"v":54.2},{"line":"K","i":99.8,"v":54.9},{"line":"K","i":101.8,"v":53.8},{"line":"K","i":103.3,"v":52.7},{"line":"K","i":105.6,"v":47.4},{"line":"K","i":107.9,"v":45.3},{"line":"K","i":109.8,"v":38.3},{"line":"K","i":111.7,"v":38.3},{"line":"K","i":112.9,"v":39.87},
{"line":"D","i":0.04,"v":84.2},{"line":"D","i":1.95,"v":85.3},{"line":"D","i":5.4,"v":85.3},{"line":"D","i":10.4,"v":85.7},{"line":"D","i":15.0,"v":85.3},{"line":"D","i":18.8,"v":83.6},{"line":"D","i":26.4,"v":80.8},{"line":"D","i":34.1,"v":78.7},{"line":"D","i":39.8,"v":75.1},{"line":"D","i":43.7,"v":71.9},{"line":"D","i":49.0,"v":67.0},{"line":"D","i":53.2,"v":60.6},{"line":"D","i":57.1,"v":53.8},{"line":"D","i":59.7,"v":49.5},{"line":"D","i":63.5,"v":45.3},{"line":"D","i":66.5,"v":42.5},{"line":"D","i":71.1,"v":41.0},{"line":"D","i":73.4,"v":40.4},{"line":"D","i":76.1,"v":41.7},{"line":"D","i":78.8,"v":42.5},{"line":"D","i":82.6,"v":43.2},{"line":"D","i":84.9,"v":42.5},{"line":"D","i":88.0,"v":43.2},{"line":"D","i":91.0,"v":46.3},{"line":"D","i":94.1,"v":48.9},{"line":"D","i":97.9,"v":50.2},{"line":"D","i":100.2,"v":51.7},{"line":"D","i":103.3,"v":52.7},{"line":"D","i":107.5,"v":50.6},{"line":"D","i":111.0,"v":45.3},{"line":"D","i":112.9,"v":43.62}
],
"tabs": [{"n":0,"tab":"USDX,M15","sel":false},{"n":1,"tab":"XAU,H4","sel":false},{"n":2,"tab":"XAG,Daily","sel":true},{"n":3,"tab":"XAU,H4","sel":false},{"n":4,"tab":"XAG,H4","sel":false},{"n":5,"tab":"XAU,M15","sel":false}]
},
"vconcat": [
{
"width": 1851, "height": 560,
"resolve": {"scale": {"color": "independent"}},
"layer": [
{"data": {"name": "levels"}, "mark": {"type": "rule", "color": "#e00000", "strokeWidth": 1},
 "encoding": {"y": {"field": "p", "type": "quantitative", "scale": {"domain": [21.464, 30.30], "nice": false, "zero": false, "padding": 0},
   "axis": {"orient": "right", "title": null, "values": [30.205, 29.17, 28.15, 27.13, 26.095, 25.075, 23.035, 22.0], "format": ".3f", "grid": false, "tickSize": 4, "labelPadding": 3, "labelFont": "DejaVu Sans", "labelFontSize": 12, "labelColor": "#ffffff", "tickColor": "#ffffff", "domainColor": "#ffffff", "labelFlush": false, "labelOverlap": false, "labelBound": false}}}},
{"data": {"name": "pricelabels"}, "transform": [{"filter": "datum.kind == 'cur'"}], "mark": {"type": "rule", "color": "#a8a8a8", "strokeWidth": 1},
 "encoding": {"y": {"field": "p", "type": "quantitative", "scale": {"domain": [21.464, 30.30], "nice": false, "zero": false, "padding": 0}}}},
{"data": {"name": "fib"}, "mark": {"type": "rule", "color": "#ffff00", "strokeWidth": 1},
 "encoding": {"x": {"datum": 92, "type": "quantitative", "scale": {"domain": [-0.156, 115.53], "nice": false, "zero": false, "padding": 0}, "axis": null}, "x2": {"datum": 115.53},
   "y": {"field": "p", "type": "quantitative", "scale": {"domain": [21.464, 30.30], "nice": false, "zero": false, "padding": 0}}}},
{"data": {"name": "candles"}, "mark": {"type": "rule", "strokeWidth": 1, "clip": true},
 "encoding": {"x": {"field": "i", "type": "quantitative", "scale": {"domain": [-0.156, 115.53], "nice": false, "zero": false, "padding": 0}, "axis": null},
   "y": {"field": "l", "type": "quantitative", "scale": {"domain": [21.464, 30.30], "nice": false, "zero": false, "padding": 0}}, "y2": {"field": "h"},
   "color": {"condition": {"test": "datum.c >= datum.o", "value": "#ff0000"}, "value": "#00ff00"}}},
{"data": {"name": "candles"}, "mark": {"type": "bar", "size": 11, "clip": true},
 "encoding": {"x": {"field": "i", "type": "quantitative", "scale": {"domain": [-0.156, 115.53], "nice": false, "zero": false, "padding": 0}, "axis": null},
   "y": {"field": "o", "type": "quantitative", "scale": {"domain": [21.464, 30.30], "nice": false, "zero": false, "padding": 0}}, "y2": {"field": "c"},
   "color": {"condition": {"test": "datum.c >= datum.o", "value": "#ff0000"}, "value": "#00ff00"}}},
{"data": {"name": "bands"}, "mark": {"type": "line", "strokeWidth": 2, "interpolate": "monotone", "color": "#8e1c8e"},
 "encoding": {"x": {"field": "i", "type": "quantitative", "scale": {"domain": [-0.156, 115.53], "nice": false, "zero": false, "padding": 0}, "axis": null},
   "y": {"field": "p", "type": "quantitative", "scale": {"domain": [21.464, 30.30], "nice": false, "zero": false, "padding": 0}}, "detail": {"field": "band"}}},
{"data": {"name": "ma"}, "mark": {"type": "line", "strokeWidth": 2.2, "interpolate": "monotone"},
 "encoding": {"x": {"field": "i", "type": "quantitative", "scale": {"domain": [-0.156, 115.53], "nice": false, "zero": false, "padding": 0}, "axis": null},
   "y": {"field": "p", "type": "quantitative", "scale": {"domain": [21.464, 30.30], "nice": false, "zero": false, "padding": 0}}, "detail": {"field": "seg"},
   "color": {"field": "trend", "type": "nominal", "scale": {"domain": ["up", "down", "flat"], "range": ["#ff0000", "#00ff00", "#ffffff"]}, "legend": null}}},
{"data": {"name": "zigzag"}, "mark": {"type": "line", "strokeWidth": 1, "color": "#ffff00"},
 "encoding": {"x": {"field": "i", "type": "quantitative", "scale": {"domain": [-0.156, 115.53], "nice": false, "zero": false, "padding": 0}, "axis": null},
   "y": {"field": "p", "type": "quantitative", "scale": {"domain": [21.464, 30.30], "nice": false, "zero": false, "padding": 0}}}},
{"data": {"name": "olive"}, "mark": {"type": "line", "strokeWidth": 3, "color": "#5f7a10"},
 "encoding": {"x": {"field": "i", "type": "quantitative", "scale": {"domain": [-0.156, 115.53], "nice": false, "zero": false, "padding": 0}, "axis": null},
   "y": {"field": "p", "type": "quantitative", "scale": {"domain": [21.464, 30.30], "nice": false, "zero": false, "padding": 0}}}},
{"data": {"name": "trend"}, "mark": {"type": "line", "strokeWidth": 3, "color": "#ffff00"},
 "encoding": {"x": {"field": "i", "type": "quantitative", "scale": {"domain": [-0.156, 115.53], "nice": false, "zero": false, "padding": 0}, "axis": null},
   "y": {"field": "p", "type": "quantitative", "scale": {"domain": [21.464, 30.30], "nice": false, "zero": false, "padding": 0}}, "detail": {"field": "id"}}},
{"data": {"name": "thin"}, "mark": {"type": "line", "strokeWidth": 1.5, "color": "#ffff00"},
 "encoding": {"x": {"field": "i", "type": "quantitative", "scale": {"domain": [-0.156, 115.53], "nice": false, "zero": false, "padding": 0}, "axis": null},
   "y": {"field": "p", "type": "quantitative", "scale": {"domain": [21.464, 30.30], "nice": false, "zero": false, "padding": 0}}}},
{"data": {"name": "heads"}, "mark": {"type": "point", "shape": "triangle", "filled": true, "size": 140, "color": "#ffff00", "opacity": 1},
 "encoding": {"x": {"field": "i", "type": "quantitative", "scale": {"domain": [-0.156, 115.53], "nice": false, "zero": false, "padding": 0}, "axis": null},
   "y": {"field": "p", "type": "quantitative", "scale": {"domain": [21.464, 30.30], "nice": false, "zero": false, "padding": 0}},
   "angle": {"field": "dir", "type": "quantitative", "scale": null}}},
{"data": {"name": "dots"}, "mark": {"type": "point", "shape": "circle", "filled": true, "size": 32, "opacity": 1},
 "encoding": {"x": {"field": "i", "type": "quantitative", "scale": {"domain": [-0.156, 115.53], "nice": false, "zero": false, "padding": 0}, "axis": null},
   "y": {"field": "p", "type": "quantitative", "scale": {"domain": [21.464, 30.30], "nice": false, "zero": false, "padding": 0}},
   "color": {"condition": {"test": "datum.kind == 'up'", "value": "#ffc000"}, "value": "#00e0ff"}}},
{"data": {"values": [{"note": "circled low"}]}, "mark": {"type": "point", "shape": "M -1 0 A 1 0.58 0 1 0 1 0 A 1 0.58 0 1 0 -1 0 Z", "filled": false, "size": 2704, "stroke": "#ffff00", "strokeWidth": 3, "opacity": 1},
 "encoding": {"x": {"datum": 110.2, "type": "quantitative", "scale": {"domain": [-0.156, 115.53], "nice": false, "zero": false, "padding": 0}, "axis": null},
   "y": {"datum": 21.977, "type": "quantitative", "scale": {"domain": [21.464, 30.30], "nice": false, "zero": false, "padding": 0}}}},
{"data": {"values": [{"t": "XAG,Daily  23.910 24.118 23.809 24.005"}]}, "mark": {"type": "text", "align": "left", "baseline": "middle", "color": "#ffffff", "font": "DejaVu Sans", "fontSize": 12},
 "encoding": {"x": {"datum": 1.28, "type": "quantitative", "scale": {"domain": [-0.156, 115.53], "nice": false, "zero": false, "padding": 0}, "axis": null},
   "y": {"datum": 30.13, "type": "quantitative", "scale": {"domain": [21.464, 30.30], "nice": false, "zero": false, "padding": 0}}, "text": {"field": "t"}}},
{"data": {"values": [{"t": "menu"}]}, "mark": {"type": "point", "shape": "triangle-down", "filled": true, "size": 30, "color": "#ffffff", "opacity": 1},
 "encoding": {"x": {"datum": 0.49, "type": "quantitative", "scale": {"domain": [-0.156, 115.53], "nice": false, "zero": false, "padding": 0}, "axis": null},
   "y": {"datum": 30.15, "type": "quantitative", "scale": {"domain": [21.464, 30.30], "nice": false, "zero": false, "padding": 0}}}},
{"data": {"name": "pricelabels"}, "mark": {"type": "point", "shape": "M -1 -0.31 L 1 -0.31 L 1 0.31 L -1 0.31 Z", "filled": true, "size": 3025, "strokeWidth": 0, "opacity": 1},
 "encoding": {"x": {"datum": 117.36, "type": "quantitative", "scale": {"domain": [-0.156, 115.53], "nice": false, "zero": false, "padding": 0}, "axis": null},
   "y": {"field": "p", "type": "quantitative", "scale": {"domain": [21.464, 30.30], "nice": false, "zero": false, "padding": 0}},
   "color": {"condition": {"test": "datum.kind == 'res'", "value": "#ff0000"}, "value": "#ffffff"}}},
{"data": {"name": "pricelabels"}, "mark": {"type": "text", "align": "center", "baseline": "middle", "font": "DejaVu Sans", "fontSize": 12},
 "encoding": {"x": {"datum": 117.36, "type": "quantitative", "scale": {"domain": [-0.156, 115.53], "nice": false, "zero": false, "padding": 0}, "axis": null},
   "y": {"field": "p", "type": "quantitative", "scale": {"domain": [21.464, 30.30], "nice": false, "zero": false, "padding": 0}},
   "text": {"field": "t"},
   "color": {"condition": {"test": "datum.kind == 'res'", "value": "#7a0000"}, "value": "#000000"}}}
]
},
{
"width": 1851, "height": 144,
"resolve": {"scale": {"color": "independent"}},
"layer": [
{"data": {"values": [{"z": 0}]}, "mark": {"type": "rule", "color": "#ffffff", "strokeDash": [2, 3], "strokeWidth": 1},
 "encoding": {"y": {"field": "z", "type": "quantitative", "scale": {"domain": [-1.09335, 2.42703], "nice": false, "zero": false, "padding": 0},
   "axis": {"orient": "right", "title": null, "values": [2.42703, 0, -1.09335], "labelExpr": "datum.value == 0 ? '0.00' : (datum.value < 0 ? '-' + format(-datum.value, '.5f') : format(datum.value, '.5f'))", "grid": false, "tickSize": 4, "labelPadding": 3, "labelFont": "DejaVu Sans", "labelFontSize": 12, "labelColor": "#ffffff", "tickColor": "#ffffff", "domainColor": "#ffffff", "labelFlush": false, "labelOverlap": false, "labelBound": false,
   "labelBaseline": {"condition": {"test": "datum.value > 1", "value": "top"}, "value": "bottom"},
   "labelOffset": {"condition": {"test": "datum.value == 0", "value": 8}, "value": 2}}}}},
{"data": {"name": "hist"}, "mark": {"type": "bar", "size": 3},
 "encoding": {"x": {"field": "i", "type": "quantitative", "scale": {"domain": [-0.156, 115.53], "nice": false, "zero": false, "padding": 0}, "axis": null},
   "y": {"field": "h", "type": "quantitative", "scale": {"domain": [-1.09335, 2.42703], "nice": false, "zero": false, "padding": 0}}, "y2": {"datum": 0},
   "color": {"condition": {"test": "datum.h >= 0", "value": "#ff0000"}, "value": "#00ff00"}}},
{"data": {"name": "macdlines"}, "mark": {"type": "line", "strokeWidth": 1.5, "interpolate": "monotone"},
 "encoding": {"x": {"field": "i", "type": "quantitative", "scale": {"domain": [-0.156, 115.53], "nice": false, "zero": false, "padding": 0}, "axis": null},
   "y": {"field": "v", "type": "quantitative", "scale": {"domain": [-1.09335, 2.42703], "nice": false, "zero": false, "padding": 0}},
   "color": {"field": "line", "type": "nominal", "scale": {"domain": ["MACD", "Signal"], "range": ["#ffffff", "#d00000"]}, "legend": null}}},
{"data": {"name": "macdmarks"}, "transform": [{"filter": "datum.kind == 'buy'"}], "mark": {"type": "point", "shape": "arrow", "filled": true, "size": 70, "color": "#ffd700", "opacity": 1},
 "encoding": {"x": {"field": "i", "type": "quantitative", "scale": {"domain": [-0.156, 115.53], "nice": false, "zero": false, "padding": 0}, "axis": null},
   "y": {"field": "v", "type": "quantitative", "scale": {"domain": [-1.09335, 2.42703], "nice": false, "zero": false, "padding": 0}}}},
{"data": {"name": "macdmarks"}, "transform": [{"filter": "datum.kind == 'sell'"}], "mark": {"type": "point", "shape": "arrow", "angle": 180, "filled": true, "size": 60, "color": "#2040ff", "opacity": 1},
 "encoding": {"x": {"field": "i", "type": "quantitative", "scale": {"domain": [-0.156, 115.53], "nice": false, "zero": false, "padding": 0}, "axis": null},
   "y": {"field": "v", "type": "quantitative", "scale": {"domain": [-1.09335, 2.42703], "nice": false, "zero": false, "padding": 0}}}},
{"data": {"name": "macdarrow"}, "mark": {"type": "line", "strokeWidth": 3, "color": "#ffff00"},
 "encoding": {"x": {"field": "i", "type": "quantitative", "scale": {"domain": [-0.156, 115.53], "nice": false, "zero": false, "padding": 0}, "axis": null},
   "y": {"field": "v", "type": "quantitative", "scale": {"domain": [-1.09335, 2.42703], "nice": false, "zero": false, "padding": 0}}}},
{"data": {"name": "macdarrow"}, "transform": [{"filter": "datum.i > 115"}], "mark": {"type": "point", "shape": "triangle", "angle": 72, "filled": true, "size": 140, "color": "#ffff00", "opacity": 1},
 "encoding": {"x": {"field": "i", "type": "quantitative", "scale": {"domain": [-0.156, 115.53], "nice": false, "zero": false, "padding": 0}, "axis": null},
   "y": {"field": "v", "type": "quantitative", "scale": {"domain": [-1.09335, 2.42703], "nice": false, "zero": false, "padding": 0}}}},
{"data": {"values": [{"note": "circled cross"}]}, "mark": {"type": "point", "shape": "M -1 0 A 1 0.9 0 1 0 1 0 A 1 0.9 0 1 0 -1 0 Z", "filled": false, "size": 1600, "stroke": "#ffff00", "strokeWidth": 3, "opacity": 1},
 "encoding": {"x": {"datum": 112.8, "type": "quantitative", "scale": {"domain": [-0.156, 115.53], "nice": false, "zero": false, "padding": 0}, "axis": null},
   "y": {"datum": -0.237, "type": "quantitative", "scale": {"domain": [-1.09335, 2.42703], "nice": false, "zero": false, "padding": 0}}}},
{"data": {"values": [{"t": "MACD(12,26,9) -0.25740 -0.30849 0.05109 -0.30849"}]}, "mark": {"type": "text", "align": "left", "baseline": "middle", "color": "#ffffff", "font": "DejaVu Sans", "fontSize": 12},
 "encoding": {"x": {"datum": 0.22, "type": "quantitative", "scale": {"domain": [-0.156, 115.53], "nice": false, "zero": false, "padding": 0}, "axis": null},
   "y": {"datum": 2.17, "type": "quantitative", "scale": {"domain": [-1.09335, 2.42703], "nice": false, "zero": false, "padding": 0}}, "text": {"field": "t"}}}
]
},
{
"width": 1851, "height": 127,
"resolve": {"scale": {"color": "independent"}},
"layer": [
{"data": {"name": "kdj"}, "mark": {"type": "line", "strokeWidth": 1.2},
 "encoding": {"x": {"field": "i", "type": "quantitative", "scale": {"domain": [-0.156, 115.53], "nice": false, "zero": false, "padding": 0},
   "axis": {"orient": "bottom", "title": null, "values": [0, 8, 16, 24, 32, 40, 48, 56, 64, 72, 80, 88, 96, 104, 112], "labelExpr": "['24 Jul 2020','3 Aug 2020','12 Aug 2020','21 Aug 2020','31 Aug 2020','9 Sep 2020','18 Sep 2020','28 Sep 2020','7 Oct 2020','16 Oct 2020','26 Oct 2020','4 Nov 2020','13 Nov 2020','23 Nov 2020','2 Dec 2020'][round(datum.value / 8)]", "labelAlign": "left", "grid": false, "tickSize": 4, "labelPadding": 3, "labelFont": "DejaVu Sans", "labelFontSize": 12, "labelColor": "#ffffff", "tickColor": "#ffffff", "domainColor": "#ffffff", "labelFlush": false, "labelOverlap": false, "labelBound": false}},
   "y": {"field": "v", "type": "quantitative", "scale": {"domain": [17.2078, 98.2646], "nice": false, "zero": false, "padding": 0},
   "axis": {"orient": "right", "title": null, "values": [98.2646, 17.2078], "format": ".4f", "grid": false, "tickSize": 4, "labelPadding": 3, "labelFont": "DejaVu Sans", "labelFontSize": 12, "labelColor": "#ffffff", "tickColor": "#ffffff", "domainColor": "#ffffff", "labelFlush": false, "labelOverlap": false, "labelBound": false,
   "labelBaseline": {"condition": {"test": "datum.value > 50", "value": "top"}, "value": "bottom"},
   "labelOffset": {"condition": {"test": "datum.value > 50", "value": 2}, "value": -4}}},
   "color": {"field": "line", "type": "nominal", "scale": {"domain": ["K", "D", "J"], "range": ["#f2f23c", "#2aa5a0", "#7d55e6"]}, "legend": null}}},
{"data": {"name": "kdjarrow"}, "mark": {"type": "line", "strokeWidth": 3, "color": "#ffff00"},
 "encoding": {"x": {"field": "i", "type": "quantitative", "scale": {"domain": [-0.156, 115.53], "nice": false, "zero": false, "padding": 0}},
   "y": {"field": "v", "type": "quantitative", "scale": {"domain": [17.2078, 98.2646], "nice": false, "zero": false, "padding": 0}}}},
{"data": {"name": "kdjarrow"}, "transform": [{"filter": "datum.i > 115"}], "mark": {"type": "point", "shape": "triangle", "angle": 73.5, "filled": true, "size": 140, "color": "#ffff00", "opacity": 1},
 "encoding": {"x": {"field": "i", "type": "quantitative", "scale": {"domain": [-0.156, 115.53], "nice": false, "zero": false, "padding": 0}},
   "y": {"field": "v", "type": "quantitative", "scale": {"domain": [17.2078, 98.2646], "nice": false, "zero": false, "padding": 0}}}},
{"data": {"values": [{"note": "circled kdj"}]}, "mark": {"type": "point", "shape": "M -1 0 A 1 0.81 0 1 0 1 0 A 1 0.81 0 1 0 -1 0 Z", "filled": false, "size": 3318, "stroke": "#ffff00", "strokeWidth": 3, "opacity": 1},
 "encoding": {"x": {"datum": 113.4, "type": "quantitative", "scale": {"domain": [-0.156, 115.53], "nice": false, "zero": false, "padding": 0}},
   "y": {"datum": 37.83, "type": "quantitative", "scale": {"domain": [17.2078, 98.2646], "nice": false, "zero": false, "padding": 0}}}},
{"data": {"values": [{"t": "KDJ(35,14,7) 39.8664 43.6247 32.3498"}]}, "mark": {"type": "text", "align": "left", "baseline": "middle", "color": "#ffffff", "font": "DejaVu Sans", "fontSize": 12},
 "encoding": {"x": {"datum": 0.1, "type": "quantitative", "scale": {"domain": [-0.156, 115.53], "nice": false, "zero": false, "padding": 0}},
   "y": {"datum": 90.6, "type": "quantitative", "scale": {"domain": [17.2078, 98.2646], "nice": false, "zero": false, "padding": 0}}, "text": {"field": "t"}}}
]
},
{
"width": 1917, "height": 53,
"view": {"stroke": null},
"layer": [
{"data": {"values": [{"bar": "tab strip"}]}, "mark": {"type": "rect", "color": "#f0f0f0"},
 "encoding": {"y": {"datum": 0, "type": "quantitative", "scale": {"domain": [0, 53], "nice": false, "zero": false, "padding": 0}, "axis": null}, "y2": {"datum": 27}}},
{"data": {"values": [{"bar": "tab strip edge"}]}, "mark": {"type": "rule", "color": "#ffffff", "strokeWidth": 1.5},
 "encoding": {"y": {"datum": 27.5, "type": "quantitative", "scale": {"domain": [0, 53], "nice": false, "zero": false, "padding": 0}, "axis": null}}},
{"data": {"name": "tabs"}, "mark": {"type": "rect", "stroke": "#b0b0b0", "strokeWidth": 1},
 "encoding": {"x": {"field": "n", "type": "ordinal", "scale": {"range": [0, 666], "paddingInner": 0, "paddingOuter": 0}, "axis": null},
   "y": {"datum": 0, "type": "quantitative", "scale": {"domain": [0, 53], "nice": false, "zero": false, "padding": 0}, "axis": null}, "y2": {"datum": 27},
   "fill": {"condition": {"test": "datum.sel", "value": "#ffffff"}, "value": "#f0f0f0"}}},
{"data": {"name": "tabs"}, "mark": {"type": "text", "font": "Noto Sans", "fontSize": 19, "baseline": "middle"},
 "encoding": {"x": {"field": "n", "type": "ordinal", "scale": {"range": [0, 666], "paddingInner": 0, "paddingOuter": 0}, "axis": null},
   "y": {"datum": 13.5, "type": "quantitative", "scale": {"domain": [0, 53], "nice": false, "zero": false, "padding": 0}, "axis": null},
   "text": {"field": "tab"}, "color": {"condition": {"test": "datum.sel", "value": "#000000"}, "value": "#808080"}}}
]
}
]
}
